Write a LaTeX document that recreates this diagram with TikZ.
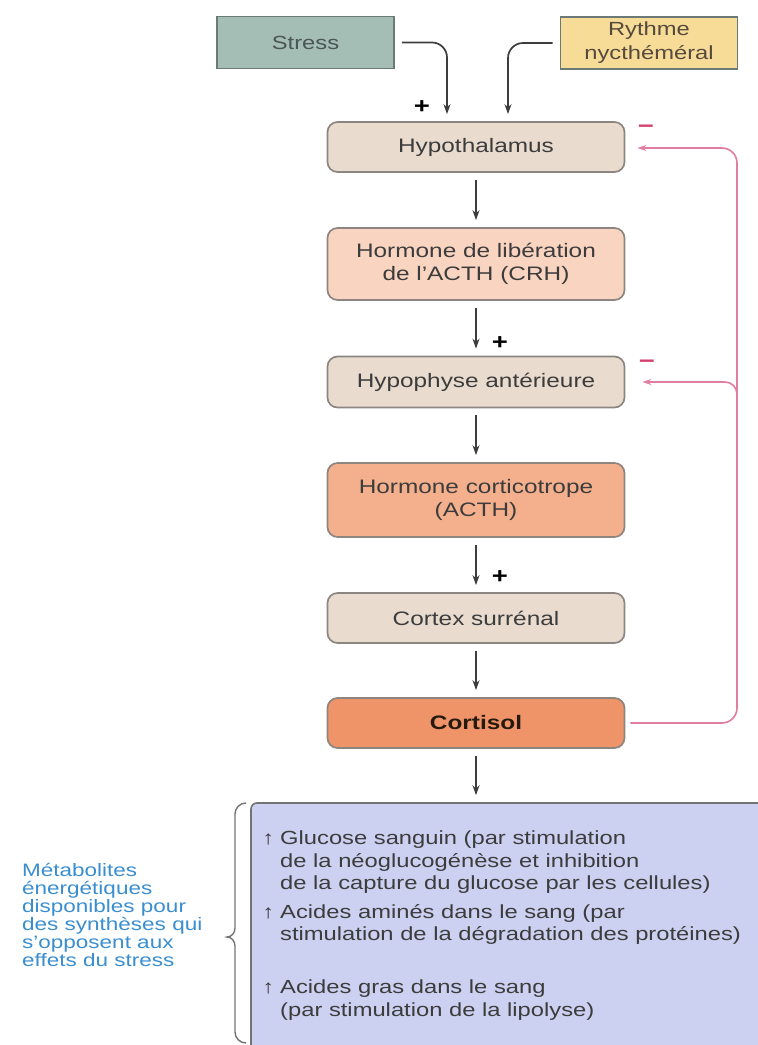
\documentclass[tikz,border=0pt]{standalone}
\usepackage{fontspec}
\setmainfont{Liberation Sans}[FakeStretch=1.25]
\usetikzlibrary{arrows.meta}
\definecolor{stressfill}{HTML}{A4BEB6}
\definecolor{stressline}{HTML}{6B7A76}
\definecolor{rythfill}{HTML}{F7DC98}
\definecolor{beige}{HTML}{E9DCCF}
\definecolor{crhfill}{HTML}{F9D4C0}
\definecolor{acthfill}{HTML}{F4AF8D}
\definecolor{cortfill}{HTML}{EE9468}
\definecolor{effill}{HTML}{CCD1F1}
\definecolor{boxline}{HTML}{8C8580}
\definecolor{txtgray}{HTML}{3C3C3C}
\definecolor{arrgray}{HTML}{3D3D3D}
\definecolor{fbpink}{HTML}{E07DA0}
\definecolor{minuspink}{HTML}{D2436F}
\definecolor{notetxt}{HTML}{3A8ECF}
\tikzset{
box/.style={draw=boxline,line width=1.7pt,rounded corners=10pt,minimum width=297pt,text=txtgray,align=center,font=\fontsize{19.5}{23}\selectfont},
inbox/.style={draw=stressline,line width=1.7pt,minimum width=177pt,minimum height=52pt,align=center,font=\fontsize{19}{24}\selectfont},
arr/.style={draw=arrgray,line width=1.7pt,-{Stealth[length=10pt,width=7pt]},shorten <=7pt,shorten >=7pt},
fb/.style={draw=fbpink,line width=1.6pt,-{Stealth[length=9pt,width=6pt]}},
sign/.style={font=\fontsize{22}{22}\selectfont\bfseries,inner sep=0pt},
item/.style={inner sep=0pt,align=left,text=txtgray,font=\fontsize{19}{22.5}\selectfont}
}
\begin{document}
\begin{tikzpicture}[x=1pt,y=-1pt]
\useasboundingbox (0,0) rectangle (758,1045);
%inputs
\node[inbox,fill=stressfill,text=stressline!70!black] (stress) at (305.5,42.5) {Stress};
\node[inbox,fill=rythfill,text=txtgray!80!brown] (rythme) at (649,43) {Rythme\\nycthéméral};
%axis
\node[box,fill=beige,minimum height=50pt] (hypo) at (476,147) {Hypothalamus};
\node[box,fill=crhfill,minimum height=72pt] (crh) at (476,264) {Hormone de libération\\de l'ACTH (CRH)};
\node[box,fill=beige,minimum height=51pt] (hypoph) at (476,382) {Hypophyse antérieure};
\node[box,fill=acthfill,minimum height=74pt] (acth) at (476,500) {Hormone corticotrope\\(ACTH)};
\node[box,fill=beige,minimum height=50pt] (cortex) at (476,618) {Cortex surrénal};
\node[box,fill=cortfill,minimum height=50pt,text=black!80!brown,font=\fontsize{19.5}{23}\selectfont\bfseries] (cortisol) at (476,723) {Cortisol};
\draw[arr,rounded corners=15pt] (stress) -| ([xshift=-29pt]hypo.north);
\draw[arr,rounded corners=15pt] (rythme) -| ([xshift=32pt]hypo.north);
\foreach \a/\b in {hypo/crh,crh/hypoph,hypoph/acth,acth/cortex,cortex/cortisol}{\draw[arr] (\a)--(\b);}
\foreach \x/\y [count=\i] in {422/107,500/343,500/577}{\node[sign] (plus\i) at (\x,\y) {+};}
%feedback
\coordinate (fbtop) at (737,148);
\coordinate (fbbot) at (737,723);
\coordinate (fbjoin) at (737,405);
\draw[fb,rounded corners=15pt,shorten <=5pt,shorten >=12pt] (cortisol.east)--(fbbot)--(fbtop)--(hypo.east |- fbtop);
\draw[fb,rounded corners=12pt,shorten >=17pt] (fbjoin) |- (hypoph.east);
\foreach \x/\y [count=\i] in {646/129,647/364}{\node[sign,text=minuspink] (minus\i) at (\x,\y) {−};}
%effects
\node[draw=black!55,line width=1.6pt,fill=effill,rounded corners=6pt,minimum width=529pt,minimum height=262pt] (effects) at (515.5,934) {};
\draw[arr] (cortisol)--(cortisol |- effects.north);
\node[item,anchor=west] (glu) at (280,862.5) {\llap{↑\hspace{6pt}}Glucose sanguin (par stimulation\\de la néoglucogénèse et inhibition\\de la capture du glucose par les cellules)};
\node[item,anchor=west] (amin) at (280,924.5) {\llap{↑\hspace{6pt}}Acides aminés dans le sang (par\\stimulation de la dégradation des protéines)};
\node[item,anchor=west] (gras) at (280,1000) {\llap{↑\hspace{6pt}}Acides gras dans le sang\\(par stimulation de la lipolyse)};
%brace
\draw[black!55,line width=1.4pt] (246,803) to[out=180,in=90] (235,814)--(235,928) to[out=-90,in=0] (227,937) to[out=0,in=90] (235,946)--(235,1032) to[out=-90,in=180] (246,1043);
\node[inner sep=0pt,align=left,text=notetxt,font=\fontsize{18}{18}\selectfont,anchor=west] (meta) at (22,915) {Métabolites\\énergétiques\\disponibles pour\\des synthèses qui\\s'opposent aux\\effets du stress};
\end{tikzpicture}
\end{document}
